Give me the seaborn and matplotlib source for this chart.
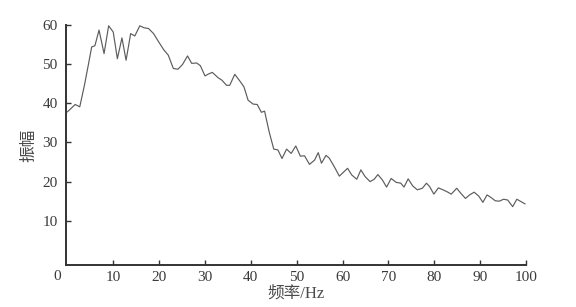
import matplotlib
matplotlib.use("Agg")
import matplotlib.pyplot as plt
import matplotlib.transforms as mtransforms
import seaborn as sns
import pandas as pd

# ---- data ----
freq = [0, 1.7, 2.7, 3.7, 4.6, 5.3, 6.0, 6.9, 8.0, 9.0, 10.0, 10.9, 11.9, 12.8, 13.8,
        14.7, 15.8, 16.7, 17.7, 18.8, 19.9, 21.0, 22.0, 23.1, 24.1, 25.1, 26.2, 27.1,
        28.2, 29.0, 30.0, 30.8, 31.6, 32.9, 33.7, 34.7, 35.4, 36.5, 37.6, 38.5, 39.4,
        40.5, 41.4, 42.3, 43.0, 44.0, 45.0, 45.9, 46.8, 47.8, 48.8, 49.8, 50.8, 51.7,
        52.8, 53.9, 54.7, 55.4, 56.4, 57.1, 58.2, 59.3, 60.2, 61.1, 62.0, 63.1, 64.0,
        64.9, 66.0, 66.9, 67.7, 68.7, 69.6, 70.6, 71.7, 72.7, 73.4, 74.3, 75.3, 76.3,
        77.4, 78.3, 79.0, 79.9, 80.9, 81.9, 82.8, 83.7, 84.9, 85.8, 86.8, 87.7, 88.7,
        89.7, 90.6, 91.5, 92.3, 93.3, 94.2, 95.1, 96.0, 97.1, 98.0, 98.9, 99.8]
amp = [37.8, 39.7, 39.1, 44.5, 50.0, 54.4, 54.7, 58.7, 52.7, 59.8, 58.2, 51.4, 56.7, 51.0, 57.8,
       57.2, 59.8, 59.3, 59.1, 57.8, 55.7, 53.7, 52.3, 48.9, 48.7, 49.9, 52.1, 50.2,
       50.3, 49.6, 47.0, 47.5, 47.9, 46.5, 45.9, 44.6, 44.6, 47.4, 45.7, 44.2, 40.8,
       39.8, 39.7, 37.7, 38.0, 32.7, 28.3, 28.1, 25.9, 28.3, 27.2, 29.1, 26.5, 26.6,
       24.4, 25.5, 27.4, 24.7, 26.7, 26.0, 23.8, 21.4, 22.4, 23.4, 21.7, 20.6, 23.0,
       21.3, 20.0, 20.6, 21.8, 20.4, 18.6, 20.8, 19.8, 19.6, 18.6, 20.7, 18.9, 17.9,
       18.3, 19.6, 18.7, 16.8, 18.4, 17.9, 17.4, 16.8, 18.3, 17.0, 15.7, 16.6, 17.3,
       16.3, 14.7, 16.6, 16.0, 15.1, 15.0, 15.5, 15.3, 13.6, 15.5, 14.9, 14.3]
x_ticks = [10, 20, 30, 40, 50, 60, 70, 80, 90, 100]
y_ticks = [10, 20, 30, 40, 50, 60]
x_label = "频率/Hz"
y_label = "振幅"
origin_label = "0"

df = pd.DataFrame({"freq": freq, "amp": amp})

sns.set_style("ticks")
plt.rcParams["font.family"] = ["Liberation Serif", "Noto Sans CJK SC", "DejaVu Sans"]
text_color = "#3a3a3a"

fig = plt.figure(figsize=(5.76, 3.07), dpi=100)
ax = fig.add_axes([66 / 576, 42 / 307, (526 - 66) / 576, (265 - 25) / 307])

sns.lineplot(data=df, x="freq", y="amp", ax=ax, color="#5c5c5c", linewidth=0.85)

ax.set_xlim(-0.3, 100)
ax.set_ylim(-1.3, 60)
ax.set_xticks(x_ticks)
ax.set_yticks(y_ticks)
ax.set_xticklabels([str(t) for t in x_ticks])
ax.set_yticklabels([str(t) for t in y_ticks])

for side in ("top", "right"):
    ax.spines[side].set_visible(False)
for side in ("left", "bottom"):
    ax.spines[side].set_linewidth(1.4)
    ax.spines[side].set_color("#333333")

ax.tick_params(axis="both", direction="in", length=3.5, width=1.0, color="#333333",
               labelsize=11, labelcolor=text_color)
ax.tick_params(axis="x", pad=4.5)
ax.tick_params(axis="y", pad=6)

ax.set_xlabel(x_label, fontsize=12, color="#4a4a4a", labelpad=1)
ax.set_ylabel(y_label, fontsize=12, color="#4a4a4a", labelpad=4)

trans = mtransforms.blended_transform_factory(ax.transData, ax.transAxes)
ax.text(-2.3, -(277 - 265) / 240, origin_label, transform=trans, ha="center", va="center",
        fontsize=11, color=text_color)

fig.savefig("out.png", dpi=100)
